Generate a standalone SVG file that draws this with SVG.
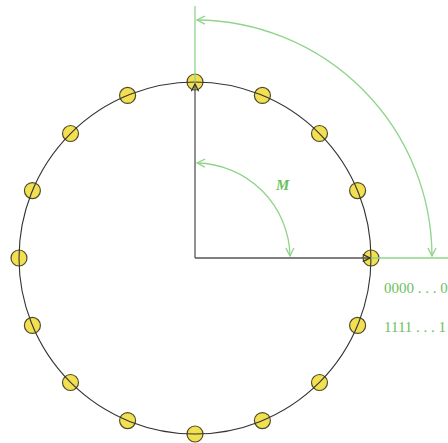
<svg xmlns="http://www.w3.org/2000/svg" width="448" height="443" viewBox="0 0 448 443">
<defs>
<style>
.node{fill:#f2e052;stroke:#4f4b2a;stroke-width:1.2}
.ring{fill:none;stroke:#333;stroke-width:1.1}
.ax{fill:none;stroke:#555;stroke-width:1.3}
.g{fill:none;stroke:#8fd48a;stroke-width:1.3}
.lbl{font-family:"Liberation Serif",serif;font-size:15px;fill:#6cbf5e}
</style>
<marker id="ga" viewBox="0 0 10 10" refX="9" refY="5" markerWidth="10" markerHeight="10" markerUnits="userSpaceOnUse" orient="auto-start-reverse">
<path d="M1,1 L9,5 L1,9" fill="none" stroke="#8fd48a" stroke-width="1.3"/>
</marker>
<marker id="ka" viewBox="0 0 10 10" refX="9" refY="5" markerWidth="9" markerHeight="9" markerUnits="userSpaceOnUse" orient="auto">
<path d="M1,1 L9,5 L1,9" fill="none" stroke="#333" stroke-width="1.4"/>
</marker>
</defs>
<rect width="448" height="443" fill="#fff"/>
<g id="nodes">
<g id="n0"><circle class="node" cx="195" cy="82" r="8"/></g>
<g id="n1"><circle class="node" cx="262.4" cy="95.4" r="8"/></g>
<g id="n2"><circle class="node" cx="319.5" cy="133.5" r="8"/></g>
<g id="n3"><circle class="node" cx="357.6" cy="190.6" r="8"/></g>
<g id="n4"><circle class="node" cx="371" cy="258" r="8"/></g>
<g id="n5"><circle class="node" cx="357.6" cy="325.4" r="8"/></g>
<g id="n6"><circle class="node" cx="319.5" cy="382.5" r="8"/></g>
<g id="n7"><circle class="node" cx="262.4" cy="420.6" r="8"/></g>
<g id="n8"><circle class="node" cx="195" cy="434" r="8"/></g>
<g id="n9"><circle class="node" cx="127.6" cy="420.6" r="8"/></g>
<g id="n10"><circle class="node" cx="70.5" cy="382.5" r="8"/></g>
<g id="n11"><circle class="node" cx="32.4" cy="325.4" r="8"/></g>
<g id="n12"><circle class="node" cx="19" cy="258" r="8"/></g>
<g id="n13"><circle class="node" cx="32.4" cy="190.6" r="8"/></g>
<g id="n14"><circle class="node" cx="70.5" cy="133.5" r="8"/></g>
<g id="n15"><circle class="node" cx="127.6" cy="95.4" r="8"/></g>
</g>
<g id="connectors">
<circle class="ring" cx="195" cy="258" r="176"/>
<line class="ax" x1="195" y1="258" x2="195" y2="84" marker-end="url(#ka)"/>
<line class="ax" x1="195" y1="258" x2="370" y2="258" marker-end="url(#ka)"/>
<line class="g" x1="195" y1="6" x2="195" y2="82"/>
<line class="g" x1="371" y1="258" x2="448" y2="258"/>
<path class="g" d="M290,256 A95 95 0 0 0 197,163" marker-start="url(#ga)" marker-end="url(#ga)"/>
<path class="g" d="M432,256 A237 237 0 0 0 197,20" marker-start="url(#ga)" marker-end="url(#ga)"/>
</g>
<text class="lbl" x="276" y="190" font-style="italic" font-weight="bold">M</text>
<text class="lbl" x="384" y="293">0000 . . . 0</text>
<text class="lbl" x="384" y="332">1111 . . . 1</text>
</svg>
